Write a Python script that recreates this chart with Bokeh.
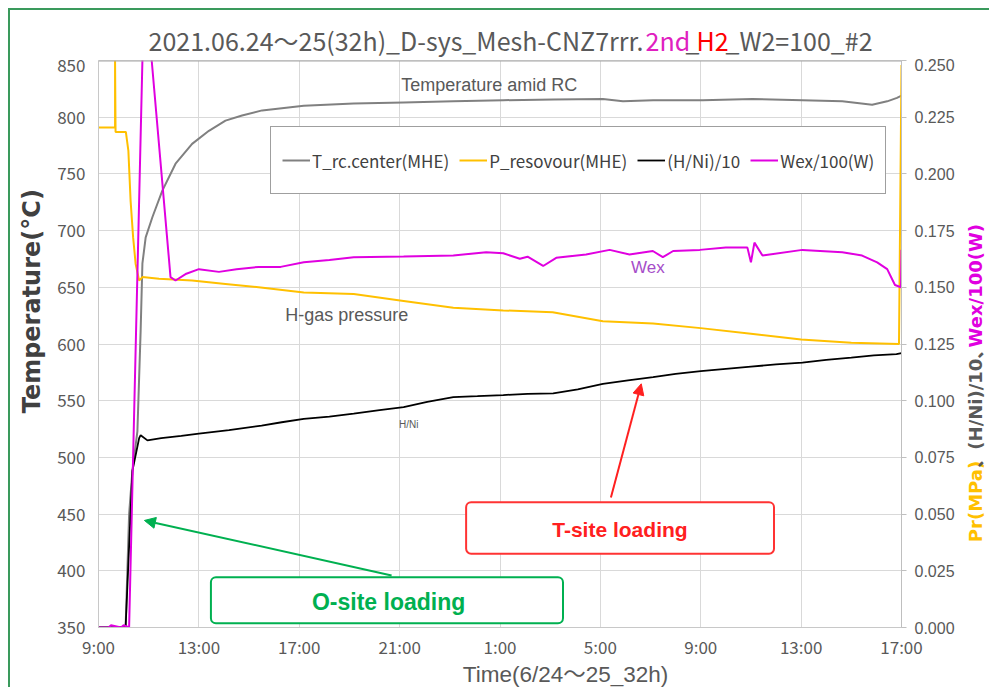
from bokeh.plotting import figure
from bokeh.layouts import column, row
from bokeh.models import (Label, Arrow, NormalHead, BoxAnnotation, Span, LinearAxis,
                          Range1d, FixedTicker, NumeralTickFormatter, Legend, LegendItem)
from bokeh.embed import file_html
from bokeh.resources import INLINE

# ---------------- data (time in hours from 6/24 9:00) ----------------
x_ticks = [0, 4, 8, 12, 16, 20, 24, 28, 32]
x_tick_labels = ["9:00", "13:00", "17:00", "21:00", "1:00", "5:00", "9:00", "13:00", "17:00"]
left_ticks = [350, 400, 450, 500, 550, 600, 650, 700, 750, 800, 850]
right_ticks = [0.0, 0.025, 0.05, 0.075, 0.1, 0.125, 0.15, 0.175, 0.2, 0.225, 0.25]

temp_t = [0, 1.08, 1.22, 1.35, 1.55, 1.68, 1.75, 1.88, 2.15, 2.54, 3.07, 3.73, 4.40, 5.06,
          5.72, 6.52, 8.18, 10.17, 12.16, 14.14, 16.13, 18.12, 20.10, 20.90, 22.10, 24.08,
          26.06, 28.05, 29.64, 30.83, 31.43, 31.82, 32.0]
temp_v = [350, 350, 450, 488, 523, 612, 671, 694, 712, 735, 759, 776.5, 788, 797,
          801.5, 806, 810, 812, 813, 814, 815, 815.5, 816, 814, 815, 815,
          816, 815, 814, 811, 814, 817, 819]

pres_t = [0, 0.66, 0.66, 0.68, 1.09, 1.19, 1.28, 1.38, 1.48, 1.62, 1.75, 2.41, 3.73, 5.06,
          6.38, 8.18, 10.17, 12.16, 14.14, 16.13, 18.1, 20.1, 22.1, 24.0, 26.0, 28.0, 30.0,
          31.9, 32.0]
pres_v = [0.2205, 0.2205, 0.25, 0.2185, 0.2185, 0.2103, 0.188, 0.172, 0.1603, 0.153, 0.1545,
          0.1538, 0.153, 0.1515, 0.150, 0.1477, 0.147, 0.144, 0.141, 0.1398, 0.139, 0.135,
          0.134, 0.132, 0.1295, 0.127, 0.1255, 0.125, 0.248]

hni_t = [0, 1.08, 1.35, 1.62, 1.68, 1.95, 2.5, 3.3, 4.0, 5.2, 6.5, 7.3, 8.18, 9.2, 10.17,
         11.2, 12.16, 13.1, 14.14, 15.1, 16.13, 17.1, 18.12, 19.1, 20.1, 21.1, 22.1, 23.0,
         24.0, 25.0, 26.0, 27.0, 28.05, 29.0, 30.0, 30.9, 31.8, 32.0]
hni_v = [0, 0, 0.069, 0.0835, 0.0848, 0.0825, 0.0835, 0.0845, 0.0855, 0.087, 0.089, 0.0905,
         0.092, 0.093, 0.0943, 0.0958, 0.0972, 0.0995, 0.1016, 0.1020, 0.1025, 0.1030, 0.1032,
         0.1050, 0.1074, 0.1090, 0.1104, 0.1118, 0.1130, 0.1140, 0.1150, 0.1160, 0.1168,
         0.1180, 0.1190, 0.1200, 0.1205, 0.1210]

wex_t = [0, 0.4, 0.5, 0.9, 1.0, 1.22, 1.75, 1.80, 2.05, 2.12, 2.87, 3.07, 3.5, 4.0, 4.8, 5.5,
         6.38, 7.26, 8.18, 9.2, 10.17, 12.16, 14.14, 15.45, 16.13, 16.79, 17.1, 17.72, 18.24,
         19.43, 20.37, 21.16, 22.09, 22.49, 22.9, 23.96, 25.0, 25.86, 26.0, 26.14, 26.46,
         28.05, 29.64, 30.43, 31.03, 31.43, 31.74, 31.98, 32.0]
wex_v = [0.0, 0.0, 0.001, 0.0, 0.001, 0.0, 0.25, 0.26, 0.26, 0.25, 0.1545, 0.153, 0.156, 0.158,
         0.1568, 0.158, 0.159, 0.159, 0.161, 0.162, 0.1633, 0.1636, 0.164, 0.1655, 0.165,
         0.1626, 0.1635, 0.1594, 0.163, 0.1645, 0.1665, 0.1645, 0.166, 0.1633, 0.166, 0.1665,
         0.1675, 0.1675, 0.161, 0.1697, 0.164, 0.1665, 0.1655, 0.164, 0.161, 0.158, 0.151,
         0.150, 0.1665]

# ---------------- styles ----------------
NARROW = "Noto Sans CJK JP"
SANS = "Liberation Sans, Noto Sans CJK JP, sans-serif"
BOLDSANS = "DejaVu Sans, Noto Sans CJK JP, sans-serif"
GRAY_TXT = "#595959"
C_T, C_P, C_H, C_W = "#808080", "#ffc000", "#000000", "#e000e0"
GREEN, RED = "#00b050", "#ff2020"
PH = 603  # height of the row holding the main plot


def text_fig(w, h):
    f = figure(width=w, height=h, x_range=Range1d(0, w), y_range=Range1d(0, h),
               x_axis_type=None, y_axis_type=None, output_backend="svg",
               toolbar_location=None, min_border=0)
    f.outline_line_color = None
    f.background_fill_color = "white"
    f.border_fill_color = "white"
    return f


# ---------------- main plot ----------------
p = figure(width=903, height=PH, x_range=Range1d(0, 32), y_range=Range1d(350, 850),
           output_backend="svg", toolbar_location=None,
           min_border_left=40, min_border_right=56, min_border_top=2, min_border_bottom=34)
p.background_fill_color = "white"
p.border_fill_color = "white"
p.outline_line_color = "#d9d9d9"
p.extra_y_ranges = {"r": Range1d(0, 0.25)}

p.xaxis.ticker = FixedTicker(ticks=x_ticks)
p.xaxis.major_label_overrides = {t: l for t, l in zip(x_ticks, x_tick_labels)}
p.yaxis.ticker = FixedTicker(ticks=left_ticks)
for ax in (p.xaxis[0], p.yaxis[0]):
    ax.major_tick_out = 0
    ax.major_tick_in = 0
    ax.minor_tick_out = 0
    ax.minor_tick_in = 0
    ax.axis_line_color = "#c8c8c8"
    ax.major_label_text_font = NARROW
    ax.major_label_text_font_size = "17px"
    ax.major_label_text_color = GRAY_TXT
p.xaxis.major_label_standoff = 6
p.yaxis.major_label_standoff = 13

ry = LinearAxis(y_range_name="r", ticker=FixedTicker(ticks=right_ticks),
                formatter=NumeralTickFormatter(format="0.000"))
ry.major_tick_out = 5
ry.major_tick_in = 0
ry.minor_tick_out = 0
ry.minor_tick_in = 0
ry.major_tick_line_color = "#bfbfbf"
ry.axis_line_color = "#bfbfbf"
ry.major_label_standoff = 8
ry.major_label_text_font = SANS
ry.major_label_text_font_size = "16px"
ry.major_label_text_color = GRAY_TXT
p.add_layout(ry, "right")

p.xgrid.grid_line_color = "#d9d9d9"
p.ygrid.grid_line_color = "#d9d9d9"
p.add_layout(Span(location=850, dimension="width", line_color="#a6a6a6", line_width=2))

r_t = p.line(temp_t, temp_v, line_color=C_T, line_width=2)
r_p = p.line(pres_t, pres_v, line_color=C_P, line_width=2, y_range_name="r")
r_h = p.line(hni_t, hni_v, line_color=C_H, line_width=1.8, y_range_name="r")
r_w = p.line(wex_t, wex_v, line_color=C_W, line_width=2, y_range_name="r")

legend = Legend(items=[LegendItem(label="T_rc.center(MHE)", renderers=[r_t]),
                       LegendItem(label="P_resovour(MHE)", renderers=[r_p]),
                       LegendItem(label="(H/Ni)/10", renderers=[r_h]),
                       LegendItem(label="Wex/100(W)", renderers=[r_w])],
                location=(172, 433), orientation="horizontal",
                padding=11, spacing=10, margin=0, label_standoff=2,
                glyph_width=28, glyph_height=44, label_height=44,
                label_text_font=NARROW, label_text_font_size="17px",
                label_text_color="#404040", border_line_color="#404040",
                border_line_width=1.5, background_fill_alpha=1)
p.add_layout(legend)

# in-plot annotations
p.add_layout(Label(x=15.57, y=828, text="Temperature amid RC", text_font=SANS,
                   text_font_size="18px", text_color=GRAY_TXT, text_align="center",
                   text_baseline="middle"))
p.add_layout(Label(x=21.89, y=667.5, text="Wex", text_font=SANS, text_font_size="17px",
                   text_color="#a64dc9", text_align="center", text_baseline="middle"))
p.add_layout(Label(x=9.89, y=626, text="H-gas pressure", text_font=SANS,
                   text_font_size="18px", text_color=GRAY_TXT, text_align="center",
                   text_baseline="middle"))
p.add_layout(Label(x=12.36, y=529, text="H/Ni", text_font=SANS, text_font_size="10px",
                   text_color=GRAY_TXT, text_align="center", text_baseline="middle"))

p.add_layout(Arrow(end=NormalHead(size=11, fill_color=RED, line_color=RED),
                   x_start=20.42, y_start=464.6, x_end=21.63, y_end=564.9,
                   line_color=RED, line_width=2))
p.add_layout(Arrow(end=NormalHead(size=11, fill_color=GREEN, line_color=GREEN),
                   x_start=11.68, y_start=395.9, x_end=1.83, y_end=444.4,
                   line_color=GREEN, line_width=2))

p.add_layout(BoxAnnotation(left=14.65, right=26.92, bottom=415.0, top=460.5,
                           fill_color="white", fill_alpha=1, line_color="#ff3333",
                           line_alpha=1, line_width=2, border_radius=5))
p.add_layout(Label(x=20.78, y=436.0, text="T-site loading", text_font=SANS,
                   text_font_style="bold", text_font_size="21px", text_color="#ff2020",
                   text_align="center", text_baseline="middle"))
p.add_layout(BoxAnnotation(left=4.48, right=18.51, bottom=353.8, top=394.4,
                           fill_color="white", fill_alpha=1, line_color=GREEN,
                           line_alpha=1, line_width=2, border_radius=5))
p.add_layout(Label(x=11.56, y=372.5, text="O-site loading", text_font=SANS,
                   text_font_style="bold", text_font_size="23px", text_color=GREEN,
                   text_align="center", text_baseline="middle"))

# ---------------- title strip ----------------
tf = text_fig(979, 48)
def title_piece(x, text, color, align):
    tf.add_layout(Label(x=x, y=18.5, text=text, text_color=color, text_font=NARROW,
                        text_font_size="25px", text_align=align, text_baseline="middle"))
title_piece(633, "2021.06.24～25(32h)_D-sys_Mesh-CNZ7rrr.", GRAY_TXT, "right")
title_piece(635, "2nd", "#e020c0", "left")
title_piece(675, "_", GRAY_TXT, "left")
title_piece(686, "H2", "#ff0000", "left")
title_piece(715, "_W2=100_#2", GRAY_TXT, "left")

# ---------------- left axis title ----------------
lf = text_fig(44, PH)
lf.add_layout(Label(x=21, y=347, text="Temperature(°C)", angle=90, angle_units="deg",
                    text_font=BOLDSANS, text_font_style="bold", text_font_size="24px",
                    text_color="#404040", text_align="center", text_baseline="middle"))

# ---------------- right axis title (three colours) ----------------
rf = text_fig(32, PH)
rf.add_layout(Label(x=18, y=134, text="Pr(MPa)", angle=90, angle_units="deg",
                    text_font=BOLDSANS, text_font_style="bold", text_font_size="18px",
                    text_color="#ffc000", text_align="center", text_baseline="middle"))
rf.add_layout(Label(x=18, y=237.5, text="、(H/Ni)/10、", angle=90, angle_units="deg",
                    text_font=BOLDSANS, text_font_style="bold", text_font_size="18px",
                    text_color="#595959", text_align="center", text_baseline="middle"))
rf.add_layout(Label(x=18, y=363.5, text="Wex/100(W)", angle=90, angle_units="deg",
                    text_font=BOLDSANS, text_font_style="bold", text_font_size="18px",
                    text_color="#e000e0", text_align="center", text_baseline="middle"))

# ---------------- x axis title ----------------
xf = text_fig(979, 26)
xf.add_layout(Label(x=555, y=13, text="Time(6/24～25_32h)", text_font=SANS,
                    text_font_size="22.5px", text_color=GRAY_TXT, text_align="center",
                    text_baseline="middle"))

layout = column(tf, row(lf, p, rf, spacing=0), xf, spacing=0,
                styles={"margin-left": "8px", "margin-top": "8px",
                        "border-left": "2px solid #3a9a5c",
                        "border-top": "2px solid #3a9a5c"})

open("out.html", "w").write(file_html(layout, INLINE))
